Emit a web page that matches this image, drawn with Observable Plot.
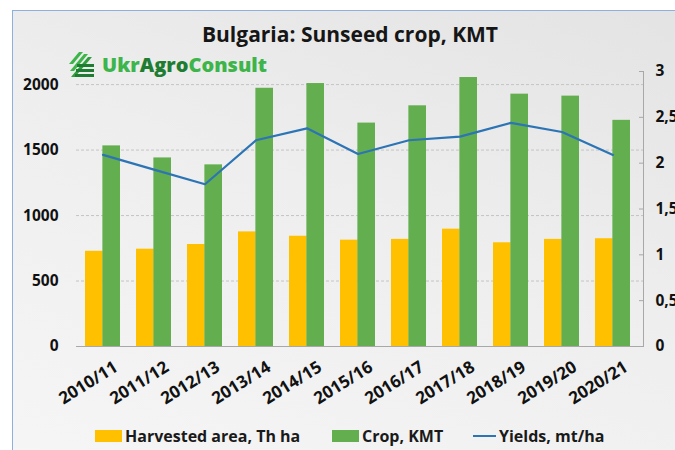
<!DOCTYPE html>
<html>
<head>
<meta charset="utf-8">
<script src="https://cdn.jsdelivr.net/npm/d3@7"></script>
<script src="https://cdn.jsdelivr.net/npm/@observablehq/plot@0.6"></script>
<style>
  html, body { margin: 0; padding: 0; background: #ffffff; }
  body { width: 675px; height: 450px; overflow: hidden; position: relative; font-family: "Open Sans", sans-serif; }
  #frame { position: absolute; left: 12px; top: 10px; width: 700px; height: 470px; border: 1px solid #8fb0dc;
           background: linear-gradient(200deg, #e3e3e3 0%, #eeeeee 45%, #f6f6f6 100%); }
  #chart { position: absolute; left: 0; top: 0; }
  #title { position: absolute; left: 0; width: 700px; top: 20px; text-align: center; font-size: 21px; font-weight: 700; color: #161616; }
  #logo { position: absolute; left: 67px; top: 49px; height: 30px; display: flex; align-items: center; }
  #logo span.t { font-size: 20px; font-weight: 800; margin-left: 5px; }
  .lg { position: absolute; top: 424px; height: 24px; font-size: 16px; font-weight: 700; color: #1a1a1a; display: flex; align-items: center; white-space: nowrap; }
  .sw { display: inline-block; width: 27px; height: 12px; margin-right: 3px; }
  .ln { display: inline-block; width: 23px; height: 2px; margin-right: 3px; }
</style>
</head>
<body>
<div id="frame"></div>
<div id="chart"></div>
<div id="title">Bulgaria: Sunseed crop, KMT</div>
<div id="logo">
  <svg width="30" height="28" viewBox="0 0 30 28">
    <polygon points="2,14 12,2 16,2 6,14" fill="#3db54a"/>
    <polygon points="3,21 17,4 21,4 7,21" fill="#3db54a"/>
    <polygon points="4,27 21,7 25,7 8,27" fill="#2f9e3f"/>
    <rect x="10" y="14" width="17" height="3" fill="#1f7d32"/>
    <rect x="9" y="19" width="18" height="3" fill="#1f7d32"/>
    <rect x="8" y="24" width="19" height="3" fill="#1f7d32"/>
  </svg>
  <span class="t"><span style="color:#3db54a">Ukr</span><span style="color:#1f7d32">Agro</span><span style="color:#3db54a">Consult</span></span>
</div>
<div class="lg" style="left:95px"><span class="sw" style="background:#FFC000"></span>Harvested area, Th ha</div>
<div class="lg" style="left:332px"><span class="sw" style="background:#63AE4E"></span>Crop, KMT</div>
<div class="lg" style="left:473px"><span class="ln" style="background:#2C74B5"></span>Yields, mt/ha</div>
<script>
const seasons = ["2010/11","2011/12","2012/13","2013/14","2014/15","2015/16","2016/17","2017/18","2018/19","2019/20","2020/21"];
const harvestedArea = [727, 743, 779, 875, 842, 812, 818, 896, 792, 818, 823];
const cropKMT = [1532, 1440, 1387, 1972, 2008, 1706, 1838, 2054, 1927, 1912, 1727];
const yieldsMtHa = [2.09, 1.93, 1.77, 2.25, 2.38, 2.10, 2.25, 2.29, 2.44, 2.34, 2.09];
const leftTicks = [0, 500, 1000, 1500, 2000];
const rightTicks = [0, 0.5, 1, 1.5, 2, 2.5, 3];

const LEFT_MAX = 2100, RIGHT_MAX = 3;
const k = LEFT_MAX / RIGHT_MAX;

const table = seasons.map((s, i) => ({season: s, area: harvestedArea[i], crop: cropKMT[i], yld: yieldsMtHa[i]}));

const xRange = [76, 638];
const padIn = 0.32;
const half = ((xRange[1] - xRange[0]) / seasons.length) * (1 - padIn) / 2;

const chart = Plot.plot({
  width: 675,
  height: 415,
  marginTop: 71,
  marginBottom: 69,
  marginLeft: 76,
  marginRight: 32,
  style: {background: "transparent", fontFamily: "Open Sans", fontWeight: 700, fontSize: "15px", color: "#111", overflow: "visible"},
  x: {domain: seasons, range: xRange, paddingInner: padIn, paddingOuter: padIn / 2, axis: null, label: null},
  y: {domain: [0, LEFT_MAX], axis: null, label: null},
  marks: [
    Plot.gridY(leftTicks.filter(v => v > 0), {stroke: "#c4c4c4", strokeOpacity: 1, strokeDasharray: "3,2"}),
    Plot.barY(table, {x: "season", y: "area", fill: "#FFC000", insetRight: half}),
    Plot.barY(table, {x: "season", y: "crop", fill: "#63AE4E", insetLeft: half}),
    Plot.ruleY([0], {stroke: "#a8a8a8"}),
    Plot.frame({anchor: "right", stroke: "#a8a8a8"}),
    Plot.lineY(table, {x: "season", y: d => d.yld * k, stroke: "#2C74B5", strokeWidth: 2.2}),
    Plot.axisY(leftTicks, {anchor: "left", tickSize: 0, tickPadding: 18, tickFormat: d => String(d), fontSize: 15.5, fontWeight: 700, fill: "#111"}),
    Plot.axisY(rightTicks.map(v => v * k), {anchor: "right", tickSize: -5, tickPadding: 17, stroke: "#a8a8a8",
      tickFormat: v => String(+(v / k).toFixed(1)).replace(".", ","), fontSize: 15.5, fontWeight: 700, fill: "#111"}),
    Plot.axisX(seasons, {anchor: "bottom", tickSize: 0, tickRotate: -32, tickPadding: 19, dx: 13, fontSize: 17, fontWeight: 700, fill: "#111"})
  ]
});
document.getElementById("chart").appendChild(chart);
</script>
</body>
</html>
